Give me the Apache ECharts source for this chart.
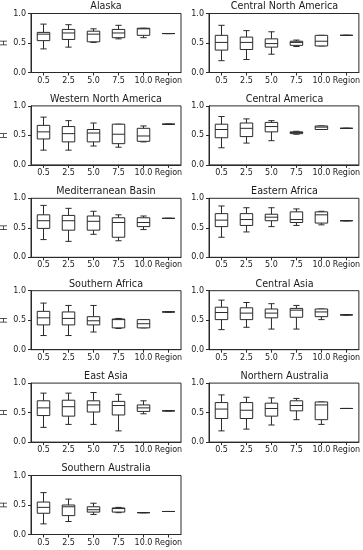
<!DOCTYPE html>
<html><head><meta charset="utf-8">
<script src="https://cdn.jsdelivr.net/npm/echarts@6/dist/echarts.min.js"></script>
<style>html,body{margin:0;padding:0;background:#fff}#c{width:363px;height:550px}</style>
</head><body><div id="c"></div>
<script>
const categories = ['0.5', '2.5', '5.0', '7.5', '10.0', 'Region'];
const yTicks = [0.0, 0.5, 1.0];
// each entry: [min, q1, median, q3, max]
const alaska = [[0.40,0.54,0.65,0.68,0.82],[0.43,0.56,0.67,0.73,0.81],[0.51,0.52,0.65,0.70,0.74],[0.57,0.59,0.67,0.73,0.80],[0.59,0.63,0.74,0.75,0.75],[0.66,0.66,0.66,0.66,0.66]];
const centralNorthAmerica = [[0.20,0.38,0.51,0.63,0.80],[0.22,0.39,0.51,0.60,0.71],[0.31,0.43,0.49,0.57,0.69],[0.44,0.46,0.51,0.53,0.55],[0.45,0.45,0.53,0.63,0.63],[0.63,0.63,0.63,0.63,0.63]];
const westernNorthAmerica = [[0.25,0.44,0.56,0.67,0.81],[0.25,0.39,0.53,0.65,0.75],[0.32,0.39,0.54,0.60,0.71],[0.30,0.36,0.52,0.69,0.69],[0.39,0.40,0.49,0.62,0.66],[0.69,0.69,0.69,0.69,0.69]];
const centralAmerica = [[0.29,0.46,0.60,0.69,0.82],[0.37,0.48,0.62,0.71,0.78],[0.41,0.56,0.65,0.72,0.75],[0.52,0.53,0.55,0.56,0.57],[0.60,0.60,0.64,0.66,0.66],[0.62,0.62,0.62,0.62,0.62]];
const mediterraneanBasin = [[0.30,0.49,0.62,0.72,0.88],[0.27,0.46,0.62,0.71,0.83],[0.39,0.46,0.61,0.70,0.78],[0.28,0.34,0.59,0.67,0.72],[0.47,0.52,0.59,0.67,0.70],[0.66,0.66,0.66,0.66,0.66]];
const easternAfrica = [[0.34,0.52,0.63,0.74,0.87],[0.43,0.54,0.64,0.74,0.84],[0.52,0.62,0.68,0.73,0.84],[0.54,0.59,0.64,0.77,0.82],[0.55,0.58,0.72,0.77,0.78],[0.62,0.62,0.62,0.62,0.62]];
const southernAfrica = [[0.24,0.42,0.54,0.65,0.79],[0.24,0.42,0.53,0.64,0.75],[0.30,0.42,0.49,0.56,0.75],[0.36,0.37,0.51,0.52,0.53],[0.37,0.37,0.44,0.51,0.51],[0.64,0.64,0.64,0.64,0.64]];
const centralAsia = [[0.34,0.51,0.63,0.72,0.84],[0.38,0.51,0.62,0.71,0.80],[0.35,0.54,0.62,0.69,0.78],[0.35,0.55,0.67,0.70,0.75],[0.51,0.56,0.64,0.69,0.69],[0.59,0.59,0.59,0.59,0.59]];
const eastAsia = [[0.25,0.45,0.58,0.70,0.83],[0.30,0.44,0.60,0.71,0.83],[0.30,0.51,0.63,0.70,0.84],[0.19,0.46,0.62,0.69,0.81],[0.48,0.52,0.58,0.63,0.70],[0.53,0.53,0.53,0.53,0.53]];
const northernAustralia = [[0.19,0.40,0.56,0.67,0.80],[0.22,0.40,0.54,0.67,0.76],[0.29,0.44,0.57,0.66,0.75],[0.38,0.53,0.62,0.70,0.74],[0.30,0.38,0.63,0.68,0.68],[0.57,0.57,0.57,0.57,0.57]];
const southernAustralia = [[0.18,0.36,0.46,0.55,0.71],[0.22,0.32,0.47,0.50,0.60],[0.34,0.38,0.42,0.47,0.53],[0.37,0.38,0.44,0.45,0.46],[0.37,0.37,0.37,0.37,0.37],[0.39,0.39,0.39,0.39,0.39]];
const panelNames = ['Alaska','Central North America','Western North America','Central America','Mediterranean Basin','Eastern Africa','Southern Africa','Central Asia','East Asia','Northern Australia','Southern Australia'];
const panelData = [alaska,centralNorthAmerica,westernNorthAmerica,centralAmerica,mediterraneanBasin,easternAfrica,southernAfrica,centralAsia,eastAsia,northernAustralia,southernAustralia];

const chart = echarts.init(document.getElementById('c'), null, {renderer:'canvas'});
const LINE = '#2a2a2a';
const TEXT = '#1a1a1a';
const FONT = 'DejaVu Sans';
const colLeft = [31, 209], colW = [150, 151];
const rowTop0 = 13.5, rowPitch = 92.4, plotH = 59;
const grids = [], xAxes = [], yAxes = [], series = [], graphics = [];

function renderBox(params, api) {
  const x = api.value(0);
  const v = [1,2,3,4,5].map(j => api.value(j));
  const bw = api.size([1, 0])[0];
  const half = bw * 0.25, cap = bw * 0.125;
  const p = v.map(val => api.coord([x, val]));
  const cx = p[0][0];
  const st = {stroke: LINE, lineWidth: 1, fill: null};
  return {type: 'group', children: [
    {type: 'line', shape: {x1: cx, y1: p[0][1], x2: cx, y2: p[1][1]}, style: st},
    {type: 'line', shape: {x1: cx, y1: p[3][1], x2: cx, y2: p[4][1]}, style: st},
    {type: 'line', shape: {x1: cx - cap, y1: p[0][1], x2: cx + cap, y2: p[0][1]}, style: st},
    {type: 'line', shape: {x1: cx - cap, y1: p[4][1], x2: cx + cap, y2: p[4][1]}, style: st},
    {type: 'rect', shape: {x: cx - half, y: p[3][1], width: 2 * half, height: p[1][1] - p[3][1]}, style: {stroke: LINE, lineWidth: 1, fill: '#fff'}},
    {type: 'line', shape: {x1: cx - half, y1: p[2][1], x2: cx + half, y2: p[2][1]}, style: st}
  ]};
}

panelNames.forEach((name, i) => {
  const r = Math.floor(i / 2), c = i % 2;
  const top = rowTop0 + r * rowPitch;
  grids.push({left: colLeft[c], top: top, width: colW[c], height: plotH, show: true, borderColor: LINE, borderWidth: 1, backgroundColor: '#fff'});
  xAxes.push({type: 'category', gridIndex: i, data: categories, boundaryGap: true,
    axisLine: {show: true, lineStyle: {color: LINE, width: 1}},
    axisTick: {show: true, alignWithLabel: true, length: 3, lineStyle: {color: LINE}},
    axisLabel: {margin: 4, fontSize: 8, color: TEXT, fontFamily: FONT, interval: 0},
    splitLine: {show: false}});
  yAxes.push({type: 'value', gridIndex: i, min: yTicks[0], max: yTicks[yTicks.length - 1], interval: 0.5,
    axisLine: {show: true, lineStyle: {color: LINE, width: 1}},
    axisTick: {show: true, length: 3, lineStyle: {color: LINE}},
    axisLabel: {margin: 5, fontSize: 8, color: TEXT, fontFamily: FONT, formatter: v => v.toFixed(1)},
    splitLine: {show: false},
    name: c === 0 ? 'H' : '', nameLocation: 'middle', nameGap: 18, nameRotate: 90,
    nameTextStyle: {fontSize: 8, color: TEXT, fontFamily: FONT}});
  graphics.push({type: 'text', x: colLeft[c] + colW[c] / 2, y: top - 6.7,
    style: {text: name, align: 'center', verticalAlign: 'middle', fontSize: 9.6, fontFamily: FONT, fill: TEXT}});
  series.push({type: 'custom', xAxisIndex: i, yAxisIndex: i,
    data: panelData[i].map((d, k) => [k].concat(d)),
    encode: {x: 0, y: [1, 2, 3, 4, 5]},
    renderItem: renderBox, clip: false, silent: true});
});

chart.setOption({animation: false, backgroundColor: '#fff', grid: grids, xAxis: xAxes, yAxis: yAxes, series: series, graphic: graphics});
</script></body></html>
